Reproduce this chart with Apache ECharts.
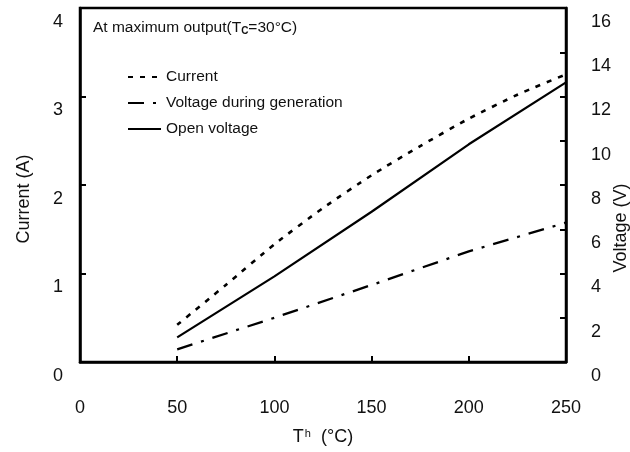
<!DOCTYPE html>
<html>
<head>
<meta charset="utf-8">
<script src="https://cdn.jsdelivr.net/npm/echarts@6/dist/echarts.min.js"></script>
<style>
html,body{margin:0;padding:0;background:#fff;}
#chart{width:630px;height:452px;}
</style>
</head>
<body>
<div id="chart"></div>
<script>
// Data
var thCurrent = [50, 75, 100, 125, 150, 175, 200, 225, 250];
var current = [0.42, 0.87, 1.33, 1.74, 2.11, 2.44, 2.75, 3.02, 3.25];
var thVoltage = [50, 100, 150, 200, 250];
var genVoltage = [0.57, 2.0, 3.48, 5.0, 6.3];
var openVoltage = [1.11, 3.87, 6.79, 9.84, 12.64];
var seriesNames = ['Current', 'Voltage during generation', 'Open voltage'];

function pairs(xs, ys) { return xs.map(function (x, i) { return [x, ys[i]]; }); }

var FONT = 'Liberation Sans, Arial, sans-serif';
var chart = echarts.init(document.getElementById('chart'), null, {renderer: 'canvas'});
var option = {
  animation: false,
  backgroundColor: '#fff',
  textStyle: {fontFamily: FONT, color: '#000'},
  title: {
    text: '{n|At maximum output(T}{s|C}{n|=30°C)}',
    left: 88, top: 14,
    textStyle: {
      rich: {
        n: {fontSize: 15.5, fontFamily: FONT, color: '#111', fontWeight: 'normal'},
        s: {fontSize: 10, fontFamily: FONT, color: '#111', padding: [7, 0, 0, 0]}
      }
    }
  },
  legend: {
    orient: 'vertical',
    left: 122, top: 64,
    itemWidth: 33, itemHeight: 14, itemGap: 10,
    data: seriesNames,
    itemStyle: {opacity: 0},
    textStyle: {fontSize: 15.5, fontFamily: FONT, color: '#111'}
  },
  grid: {
    left: 80, right: 64, top: 8, bottom: 90,
    containLabel: false, outerBoundsMode: 'none',
    show: true, borderColor: '#000', borderWidth: 2.5, backgroundColor: 'transparent'
  },
  xAxis: {
    type: 'value', min: 0, max: 250, interval: 50,
    name: '{a|T}{b|h}{a|  (°C)}',
    nameLocation: 'middle', nameGap: 66, nameMoveOverlap: false,
    nameTextStyle: {rich: {
      a: {fontSize: 18, fontFamily: FONT, color: '#111'},
      b: {fontSize: 11, fontFamily: FONT, color: '#111', padding: [0, 0, 8, 1]}
    }},
    axisLine: {show: true, lineStyle: {color: '#000', width: 2.5}},
    axisTick: {show: true, inside: true, length: 6, lineStyle: {color: '#000', width: 2}},
    axisLabel: {fontSize: 18, color: '#111', margin: 37, fontFamily: FONT},
    splitLine: {show: false}
  },
  yAxis: [{
    type: 'value', min: 0, max: 4, interval: 1, position: 'left',
    name: 'Current (A)', nameLocation: 'middle', nameGap: 47, nameMoveOverlap: false,
    nameTextStyle: {fontSize: 18, color: '#111', fontFamily: FONT, padding: [0, 28, 0, 0]},
    axisLine: {show: true, lineStyle: {color: '#000', width: 2.5}},
    axisTick: {show: true, inside: true, length: 6, lineStyle: {color: '#000', width: 2}},
    axisLabel: {fontSize: 18, color: '#111', margin: 17, fontFamily: FONT, verticalAlign: 'top', lineHeight: 28},
    splitLine: {show: false}
  }, {
    type: 'value', min: 0, max: 16, interval: 2, position: 'right',
    name: 'Voltage (V)', nameLocation: 'middle', nameGap: 46, nameMoveOverlap: false,
    nameTextStyle: {fontSize: 18, color: '#111', fontFamily: FONT, padding: [0, 86, 0, 0]},
    axisLine: {show: true, lineStyle: {color: '#000', width: 2.5}},
    axisTick: {show: true, inside: true, length: 6, lineStyle: {color: '#000', width: 2}},
    axisLabel: {fontSize: 18, color: '#111', margin: 25, fontFamily: FONT, verticalAlign: 'top', lineHeight: 28},
    splitLine: {show: false}
  }],
  series: [{
    name: seriesNames[0], type: 'line', yAxisIndex: 0, symbol: 'none',
    data: pairs(thCurrent, current), smooth: 0.2,
    lineStyle: {color: '#000', width: 2.6, type: [5, 7]},
    itemStyle: {color: '#000'}
  }, {
    name: seriesNames[1], type: 'line', yAxisIndex: 1, symbol: 'none',
    data: pairs(thVoltage, genVoltage),
    lineStyle: {color: '#000', width: 2.3, type: [16, 9, 3, 9]},
    itemStyle: {color: '#000'}
  }, {
    name: seriesNames[2], type: 'line', yAxisIndex: 1, symbol: 'none',
    data: pairs(thVoltage, openVoltage),
    lineStyle: {color: '#000', width: 2.2, type: 'solid'},
    itemStyle: {color: '#000'}
  }]
};
chart.setOption(option);
</script>
</body>
</html>
